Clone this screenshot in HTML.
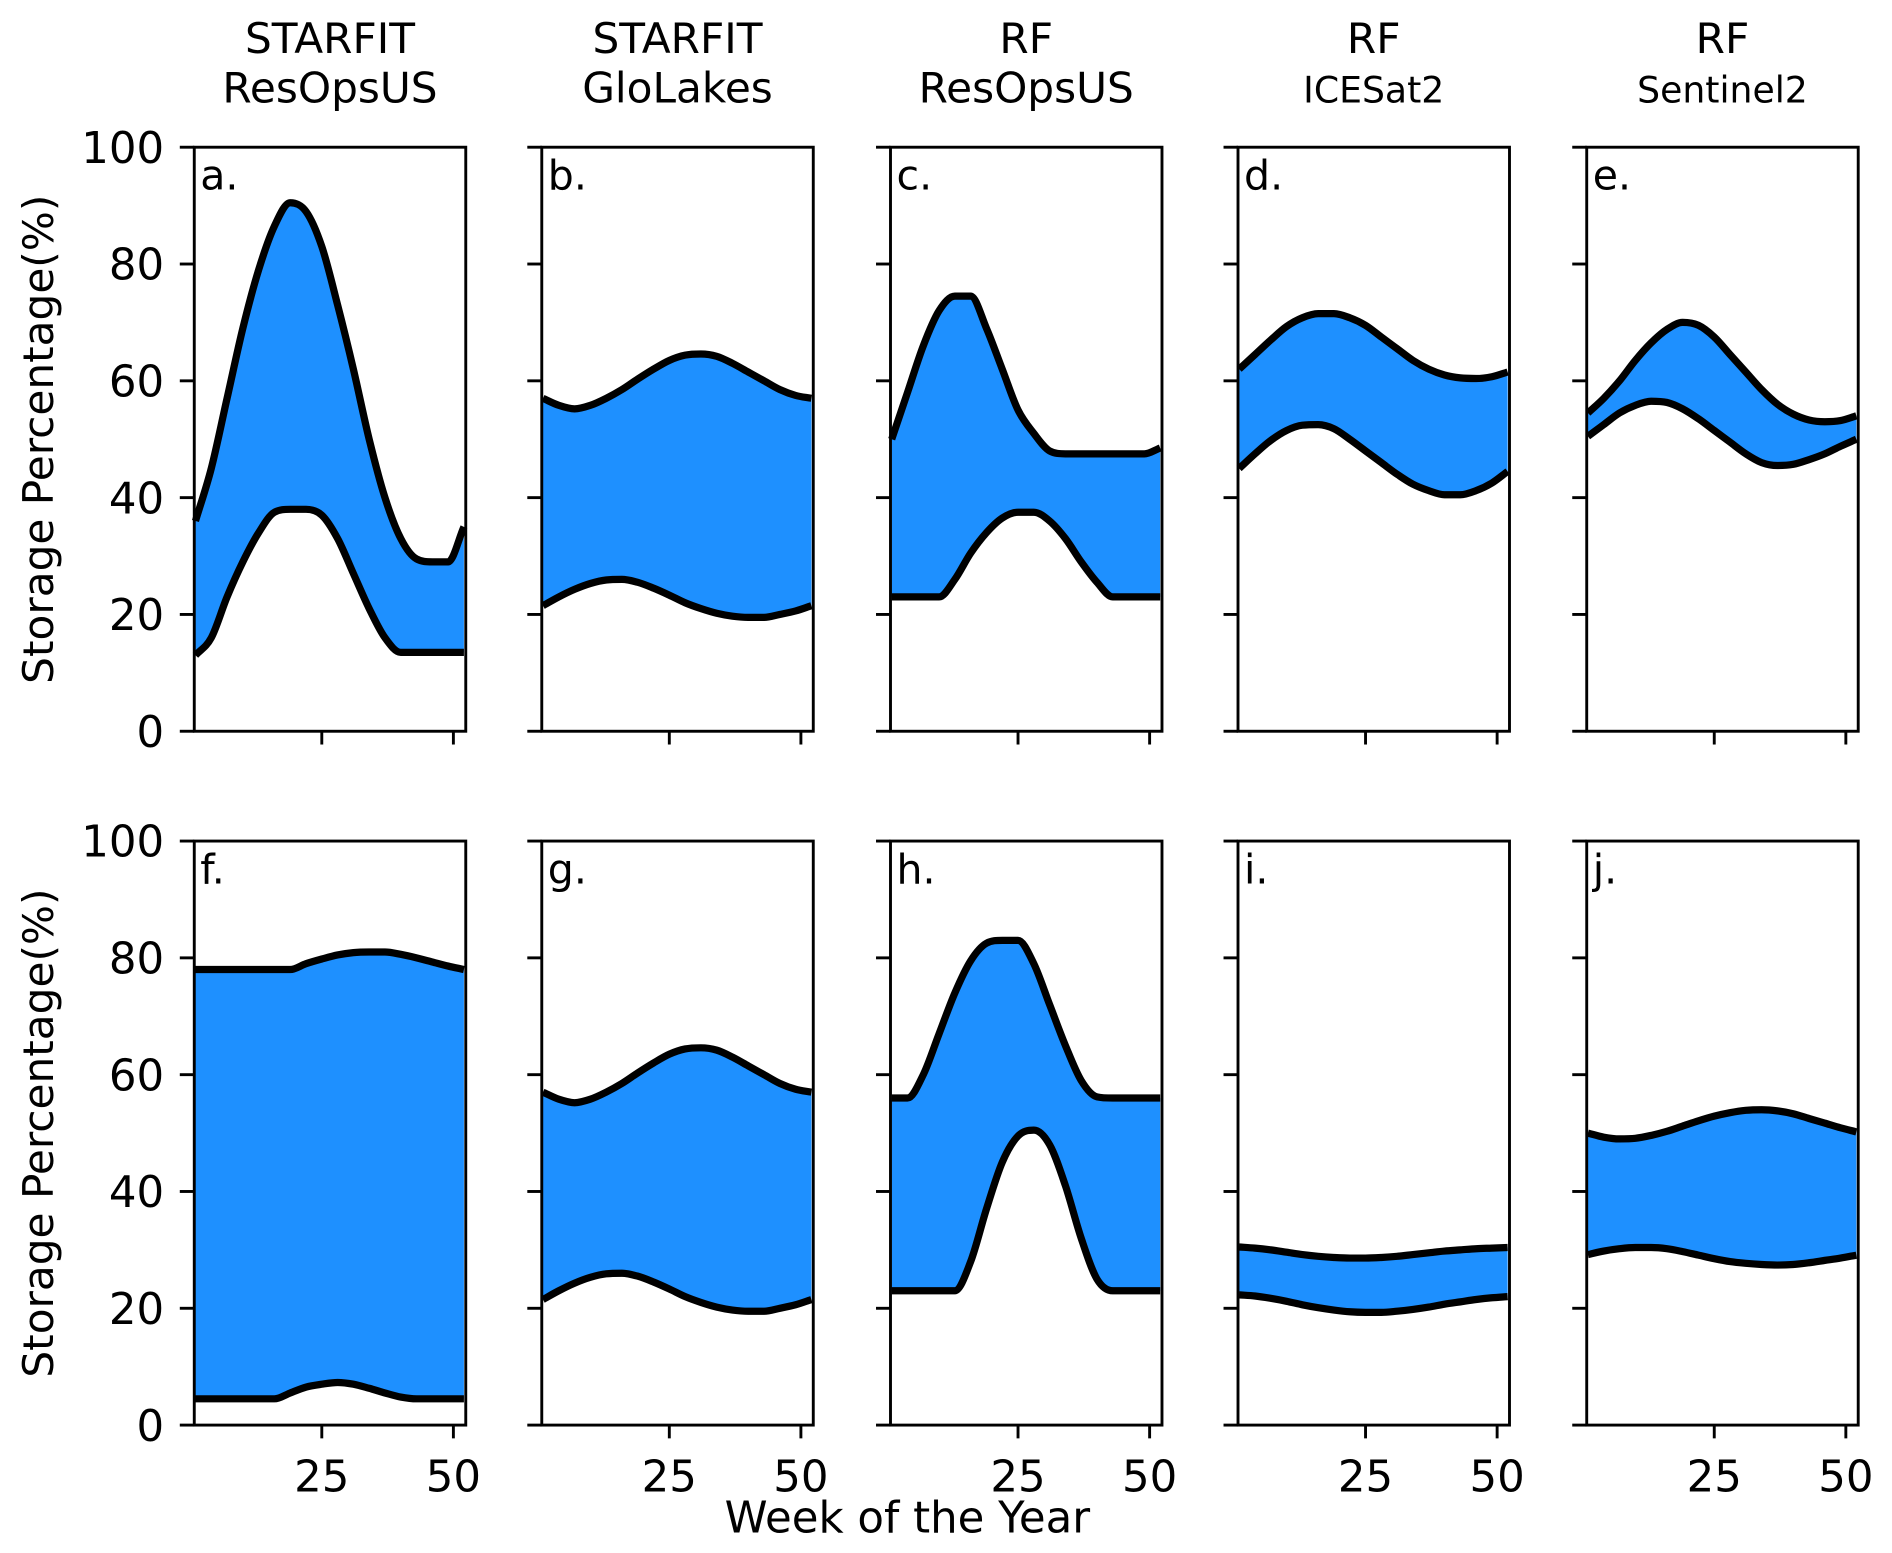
<!DOCTYPE html>
<html><head><meta charset="utf-8"><style>
html,body{margin:0;padding:0;background:#fff;}
svg{display:block;font-family:"DejaVu Sans","Liberation Sans",sans-serif;}
</style></head><body>
<svg id="chart" width="1892" height="1553" viewBox="0 0 1568 1287" preserveAspectRatio="none" xmlns="http://www.w3.org/2000/svg"></svg>
<script>
const weeks = [1,4,7,10,13,16,19,22,25,28,31,34,37,40,43,46,49,52];
const titles1 = ["STARFIT","STARFIT","RF","RF","RF"];
const titles2 = ["ResOpsUS","GloLakes","ResOpsUS","ICESat2","Sentinel2"];
const panelLabels = ["a.","b.","c.","d.","e.","f.","g.","h.","i.","j."];
const yTicks = [0,20,40,60,80,100];
const xTicks = [25,50];
const upperA = [36,45,57,69,79,86.5,90.5,89,83,73,62,50,40,33,29.5,29,29,35];
const lowerA = [13,16,23,29,34,37.5,38,38,37,33,27,21,16,13.5,13.5,13.5,13.5,13.5];
const upperB = [57,55.8,55.2,55.8,57,58.5,60.3,62,63.5,64.4,64.6,64.2,63,61.5,60,58.5,57.5,57];
const lowerB = [21.5,23,24.3,25.3,25.9,26,25.5,24.5,23.3,22,21,20.2,19.7,19.5,19.5,20,20.6,21.5];
const upperC = [50,58,66,72,74.5,74.5,69,62,55,51,48,47.5,47.5,47.5,47.5,47.5,47.5,48.5];
const lowerC = [23,23,23,23,26,30.5,34,36.5,37.5,37.5,36,33,29,25.5,23,23,23,23];
const upperD = [62,64.5,67,69.3,70.8,71.5,71.5,70.8,69.5,67.5,65.5,63.5,62,61,60.5,60.4,60.7,61.5];
const lowerD = [45,47.5,49.8,51.5,52.4,52.5,51.8,50,48,46,44,42.3,41.2,40.5,40.5,41.2,42.5,44.5];
const upperE = [54.5,57,60,63.5,66.5,68.8,70,69.5,67.5,64.5,61.5,58.5,56,54.3,53.3,53,53.2,54];
const lowerE = [50.5,52.5,54.5,55.8,56.5,56.3,55.2,53.5,51.5,49.5,47.5,46,45.5,45.7,46.5,47.5,48.8,50];
const upperF = [78,78,78,78,78,78,78,79,79.8,80.5,80.9,81,81,80.6,80,79.3,78.6,78];
const lowerF = [4.5,4.5,4.5,4.5,4.5,4.5,5.5,6.5,7,7.3,7,6.3,5.5,4.8,4.5,4.5,4.5,4.5];
const upperG = [57,55.8,55.2,55.8,57,58.5,60.3,62,63.5,64.4,64.6,64.2,63,61.5,60,58.5,57.5,57];
const lowerG = [21.5,23,24.3,25.3,25.9,26,25.5,24.5,23.3,22,21,20.2,19.7,19.5,19.5,20,20.6,21.5];
const upperH = [56,56,60,67,74,79.5,82.5,83,83,79,72,65,59,56.2,56,56,56,56];
const lowerH = [23,23,23,23,23,28,37,45,49.5,50.5,48,41,32,25,23,23,23,23];
const upperI = [30.5,30.3,30,29.6,29.2,28.9,28.7,28.6,28.6,28.7,28.9,29.2,29.5,29.8,30,30.2,30.3,30.4];
const lowerI = [22.3,22.1,21.7,21.2,20.6,20.1,19.7,19.4,19.3,19.3,19.5,19.8,20.2,20.7,21.1,21.5,21.8,22];
const upperJ = [50,49.3,49,49.1,49.6,50.3,51.2,52.1,52.9,53.5,53.9,54,53.8,53.3,52.5,51.7,50.9,50.2];
const lowerJ = [29.2,29.8,30.2,30.4,30.4,30.2,29.7,29.1,28.5,28,27.7,27.5,27.4,27.5,27.8,28.2,28.6,29.1];
const uppers = [upperA,upperB,upperC,upperD,upperE,upperF,upperG,upperH,upperI,upperJ];
const lowers = [lowerA,lowerB,lowerC,lowerD,lowerE,lowerF,lowerG,lowerH,lowerI,lowerJ];

const NS="http://www.w3.org/2000/svg";
const svg=document.getElementById('chart');
function mk(tag,attrs,parent){const e=document.createElementNS(NS,tag);for(const k in attrs)e.setAttribute(k,attrs[k]);(parent||svg).appendChild(e);return e;}
const colLeft=[161,449,738,1026,1315];
const PW=225;
const rowTop=[122,697];
const PH=484;
const W0=0.77,W1=52.35;
function monoSegs(pts){
  const n=pts.length,d=[],m=[];
  for(let i=0;i<n-1;i++)d.push((pts[i+1][1]-pts[i][1])/(pts[i+1][0]-pts[i][0]));
  m[0]=d[0];m[n-1]=d[n-2];
  for(let i=1;i<n-1;i++){m[i]=(d[i-1]*d[i]<=0)?0:(d[i-1]+d[i])/2;}
  for(let i=0;i<n-1;i++){
    if(d[i]===0){m[i]=0;m[i+1]=0;continue;}
    const a=m[i]/d[i],b=m[i+1]/d[i],s=a*a+b*b;
    if(s>9){const t=3/Math.sqrt(s);m[i]=t*a*d[i];m[i+1]=t*b*d[i];}
  }
  const segs=[];
  for(let i=0;i<n-1;i++){
    const h=(pts[i+1][0]-pts[i][0])/3;
    segs.push([pts[i],[pts[i][0]+h,pts[i][1]+m[i]*h],[pts[i+1][0]-h,pts[i+1][1]-m[i+1]*h],pts[i+1]]);
  }
  return segs;
}
const f=v=>v.toFixed(2);
function pathFwd(pts){const s=monoSegs(pts);let d='M'+f(s[0][0][0])+','+f(s[0][0][1]);s.forEach(g=>{d+=' C'+f(g[1][0])+','+f(g[1][1])+' '+f(g[2][0])+','+f(g[2][1])+' '+f(g[3][0])+','+f(g[3][1]);});return d;}
function pathRev(pts){const s=monoSegs(pts).reverse();let d='L'+f(s[0][3][0])+','+f(s[0][3][1]);s.forEach(g=>{d+=' C'+f(g[2][0])+','+f(g[2][1])+' '+f(g[1][0])+','+f(g[1][1])+' '+f(g[0][0])+','+f(g[0][1]);});return d;}
for(let c=0;c<5;c++){
  const cx=colLeft[c]+PW/2;
  const t1=mk('text',{x:cx,y:44,'text-anchor':'middle','font-size':35});
  
  
  t1.textContent=titles1[c];
  const small=(c>=3);
  const t2=mk('text',{x:cx,y:85,'text-anchor':'middle','font-size':small?30:35});
  
  
  t2.textContent=titles2[c];
}
for(let r=0;r<2;r++){
  for(let c=0;c<5;c++){
    const idx=r*5+c;
    const L=colLeft[c],T=rowTop[r];
    const xs=w=>L+(w-W0)/(W1-W0)*PW;
    const ys=v=>T+PH-v/100*PH;
    const g=mk('g',{});
    
    
    const up=weeks.map((w,i)=>[xs(w),ys(uppers[idx][i])]);
    const lo=weeks.map((w,i)=>[xs(w),ys(lowers[idx][i])]);
    const upD=pathFwd(up);
    const band=mk('path',{d:upD+' '+pathRev(lo)+' Z',fill:'#1e90ff',stroke:'none'},g);
    
    
    const ul=mk('path',{d:upD,fill:'none',stroke:'#000','stroke-width':6,'stroke-linejoin':'round'},g);
    
    
    const ll=mk('path',{d:pathFwd(lo),fill:'none',stroke:'#000','stroke-width':6,'stroke-linejoin':'round'},g);
    
    
    const frame=mk('rect',{x:L,y:T,width:PW,height:PH,fill:'none',stroke:'#000','stroke-width':2.4},g);
    
    
    yTicks.forEach(v=>{
      const tk=mk('line',{x1:L-12,x2:L,y1:ys(v),y2:ys(v),stroke:'#000','stroke-width':2.4},g);
      
      
      if(c===0){
        const tl=mk('text',{x:L-25,y:ys(v)+13,'text-anchor':'end','font-size':36},g);
        
        
        tl.textContent=v;
      }
    });
    xTicks.forEach(v=>{
      const tk=mk('line',{x1:xs(v),x2:xs(v),y1:T+PH,y2:T+PH+11,stroke:'#000','stroke-width':2.4},g);
      
      
      if(r===1){
        const tl=mk('text',{x:xs(v),y:T+PH+55,'text-anchor':'middle','font-size':36},g);
        
        
        tl.textContent=v;
      }
    });
    const pl=mk('text',{x:L+5,y:T+35,'font-size':34},g);
    
    
    pl.textContent=panelLabels[idx];
  }
  const yl=mk('text',{x:0,y:0,'text-anchor':'middle','font-size':35,transform:'translate(44,'+(rowTop[r]+PH/2)+') rotate(-90)'});
  
  
  yl.textContent='Storage Percentage(%)';
}
const xl=mk('text',{x:752,y:1270,'text-anchor':'middle','font-size':36});


xl.textContent='Week of the Year';
</script>
</body></html>
